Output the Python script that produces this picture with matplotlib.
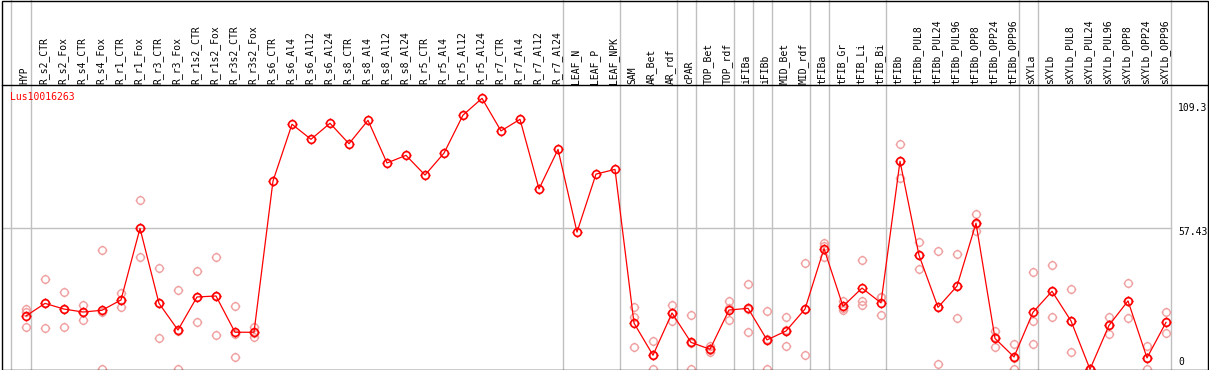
import matplotlib
matplotlib.use("Agg")
import matplotlib.pyplot as plt
import numpy as np
from matplotlib.path import Path
from matplotlib.patches import Rectangle
from matplotlib.lines import Line2D
from matplotlib.transforms import blended_transform_factory

gene = "Lus10016263"

categories = [
    "HYP", "R_s2_CTR", "R_s2_Fox", "R_s4_CTR", "R_s4_Fox", "R_r1_CTR", "R_r1_Fox",
    "R_r3_CTR", "R_r3_Fox", "R_r1s2_CTR", "R_r1s2_Fox", "R_r3s2_CTR", "R_r3s2_Fox",
    "R_s6_CTR", "R_s6_Al4", "R_s6_Al12", "R_s6_Al24", "R_s8_CTR", "R_s8_Al4",
    "R_s8_Al12", "R_s8_Al24", "R_r5_CTR", "R_r5_Al4", "R_r5_Al12", "R_r5_Al24",
    "R_r7_CTR", "R_r7_Al4", "R_r7_Al12", "R_r7_Al24", "LEAF_N", "LEAF_P", "LEAF_NPK",
    "SAM", "AR_Bet", "AR_rdf", "cPAR", "TOP_Bet", "TOP_rdf", "iFIBa", "iFIBb",
    "MID_Bet", "MID_rdf", "tFIBa", "tFIB_Gr", "tFIB_Li", "tFIB_Bi", "tFIBb",
    "tFIBb_PUL8", "tFIBb_PUL24", "tFIBb_PUL96", "tFIBb_OPP8", "tFIBb_OPP24",
    "tFIBb_OPP96", "sXYLa", "sXYLb", "sXYLb_PUL8", "sXYLb_PUL24", "sXYLb_PUL96",
    "sXYLb_OPP8", "sXYLb_OPP24", "sXYLb_OPP96",
]

means = [
    21.9, 27.0, 24.7, 23.5, 24.2, 28.4, 57.4, 27.0, 16.2, 29.6, 30.0, 15.3, 15.3,
    76.6, 99.6, 93.5, 100.0, 91.7, 101.2, 83.9, 87.0, 79.0, 87.9, 103.3, 110.1,
    96.9, 101.6, 73.4, 89.4, 55.9, 79.4, 81.3,
    19.0, 6.0, 23.1, 11.2, 8.4, 24.3, 25.0, 12.2, 15.8, 24.7, 49.2, 25.8, 33.2,
    27.2, 84.6, 46.5, 25.4, 34.0, 59.5, 12.8, 5.3, 23.4, 31.9, 19.9, 0.3, 18.1,
    28.0, 4.9, 19.3,
]

nan = float("nan")
rep1 = [
    24.7, 36.9, 31.6, 26.2, 48.6, 31.1, 68.8, 41.2, 32.4, 40.1, 45.7, 25.9, 17.5,
    nan, nan, nan, nan, nan, nan, nan, nan, nan, nan, nan, nan, nan, nan, nan, nan,
    nan, nan, nan,
    25.5, 11.6, 26.3, 22.2, 9.7, 27.8, 34.9, 23.8, 21.4, 43.2, 51.6, 27.8, 44.6,
    29.7, 91.5, 51.9, 48.2, 46.9, 63.1, 15.8, 10.5, 39.6, 42.4, 32.7, 0.3, 21.5,
    35.1, 9.6, 23.4,
]
rep2 = [
    23.5, 27.0, 24.7, 23.5, 0.4, 25.7, 45.7, 12.8, 0.4, 19.3, 14.2, 5.3, 13.3,
    nan, nan, nan, nan, nan, nan, nan, nan, nan, nan, nan, nan, nan, nan, nan, nan,
    nan, nan, nan,
    21.4, 0.4, 19.7, 0.4, 7.3, 20.1, 15.4, 0.4, 9.7, 6.0, 45.8, 24.3, 27.8,
    22.2, 77.7, 40.8, 2.3, 21.0, 56.3, 9.4, 0.4, 19.7, 21.4, 7.3, 0.3, 14.5,
    21.0, 0.4, 14.9,
]
rep3 = [
    17.4, 17.0, 17.4, 20.3, 23.6, 28.4, 57.7, 27.0, 15.8, 29.4, 30.1, 14.7, 15.1,
    nan, nan, nan, nan, nan, nan, nan, nan, nan, nan, nan, nan, nan, nan, nan, nan,
    nan, nan, nan,
    9.2, 6.0, 23.3, 11.0, 8.2, 25.0, 24.7, 12.4, 16.3, 24.9, 50.2, 25.3, 26.5,
    29.7, 84.6, 46.8, 25.7, 34.1, 59.1, 13.2, 5.0, 10.5, 31.9, 19.7, 0.3, 18.3,
    27.9, 4.7, 19.6,
]

group_breaks = [-0.8, 0.25, 28.25, 31.25, 34.25, 35.25, 37.25, 38.25, 39.25,
                41.25, 42.25, 45.25, 52.25, 53.25, 60.25]
ytick_values = [109.3, 57.43, 0]
ytick_labels = ["109.3", "57.43", "0"]

# ---------------------------------------------------------------------------
W, H = 1209, 370
K = 2.4674          # pixels per unit
X0, DX = 26.0, 19.0  # pixel x of first category, spacing
MONO = "DejaVu Sans Mono"

fig = plt.figure(figsize=(W / 100, H / 100), dpi=100)
ax_left_px, ax_right_px = 1.5, 1208.0
ax_top_px, ax_bot_px = 85.0, 369.5
ax = fig.add_axes([ax_left_px / W, (H - ax_bot_px) / H,
                   (ax_right_px - ax_left_px) / W, (ax_bot_px - ax_top_px) / H])
ax.set_xlim((ax_left_px - X0) / DX, (ax_right_px - X0) / DX)
ax.set_ylim((H - ax_bot_px) / K, (H - ax_top_px) / K)
ax.axis("off")

# custom marker: circle (polygon) with four short stubs
theta = np.linspace(0, 2 * np.pi, 41)
verts = [(np.cos(t), np.sin(t)) for t in theta]
codes = [Path.MOVETO] + [Path.LINETO] * (len(theta) - 1)
for (a, b) in [((0, 1.0), (0, 1.3)), ((0, -1.0), (0, -1.3)),
               ((1.0, 0), (1.3, 0)), ((-1.0, 0), (-1.3, 0))]:
    verts += [a, b]
    codes += [Path.MOVETO, Path.LINETO]
marker = Path(verts, codes)

xs = np.arange(len(categories))

# vertical group separators (full figure height)
trans_xfig = blended_transform_factory(ax.transData, fig.transFigure)
for b in group_breaks:
    ax.add_line(Line2D([b, b], [0, 1], transform=trans_xfig, color="#c0c0c0",
                       lw=1.0, clip_on=False, zorder=0))

# horizontal grid line at 57.43
ax.plot([ax.get_xlim()[0], group_breaks[-1]], [ytick_values[1]] * 2,
         color="#c0c0c0", lw=1.0, zorder=0)

pale = "#f0a0a0"
for reps in (rep1, rep2, rep3):
    ax.plot(xs, reps, ls="none", marker=marker, ms=7.0, mfc="none",
            mec=pale, mew=1.0, zorder=2)

ax.plot(xs, means, color="#ff0000", lw=0.9, marker=marker, ms=7.2,
        mfc="none", mec="#ff0000", mew=1.2, zorder=3)

# category labels (rotated) in header area
for i, c in enumerate(categories):
    ax.text(i - 0.08, (H - 83.5) / H, c, transform=trans_xfig, rotation=90,
            ha="center", va="bottom", fontsize=7, family=MONO, color="black",
            clip_on=False)

# gene label
fig.text(10 / W, 1 - 97.5 / H, gene, color="#ff0000", fontsize=7, family=MONO,
         ha="left", va="center")

# y tick labels on the right
for ypx, lab in zip([108, 232, 362], ytick_labels):
    fig.text(1178 / W, 1 - ypx / H, lab, color="black", fontsize=7, family=MONO,
             ha="left", va="center")

# frame
fig.add_artist(Rectangle((ax_left_px / W, (H - ax_bot_px) / H),
                         (ax_right_px - ax_left_px) / W, (ax_bot_px - 1.0) / H,
                         transform=fig.transFigure, fill=False, ec="black",
                         lw=1.0, zorder=10))
fig.add_artist(Line2D([ax_left_px / W, ax_right_px / W], [1 - 85 / H] * 2,
                      transform=fig.transFigure, color="black", lw=1.0, zorder=10))

fig.savefig("out.png", dpi=100)
